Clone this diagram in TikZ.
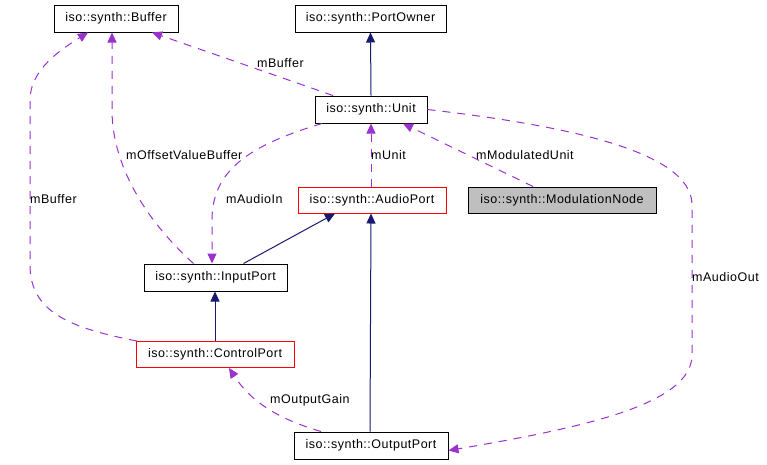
\documentclass[tikz,border=0pt]{standalone}
\usepackage{fontspec}
\setmainfont[LetterSpace=4]{Liberation Sans}
\usetikzlibrary{arrows.meta}
\definecolor{inhcol}{HTML}{191970}
\definecolor{usecol}{HTML}{9A32CD}
\definecolor{nodegray}{HTML}{BFBFBF}
\begin{document}
\begin{tikzpicture}[x=1pt,y=-1pt,
  font=\fontsize{12.5}{14}\selectfont,
  cls/.style={draw=black,line width=1pt,fill=white,inner sep=0pt,minimum height=27pt},
  redcls/.style={cls,draw=red},
  graycls/.style={cls,fill=nodegray},
  inh/.style={draw=inhcol,line width=1pt,-{Triangle[length=10pt,width=9pt]}},
  use/.style={draw=usecol,line width=1pt,dash pattern=on 8pt off 7pt,-{Triangle[length=10pt,width=9pt]}},
  lab/.style={inner sep=0pt,anchor=west}]
\useasboundingbox (0,0) rectangle (767,464);
\fill[white] (0,0) rectangle (767,464);
% nodes
\node[cls,minimum width=124pt] (buffer) at (116,18.5) {iso::synth::Buffer};
\node[cls,minimum width=151pt] (portowner) at (370.5,18.5) {iso::synth::PortOwner};
\node[cls,minimum width=112pt] (unit) at (371,109.5) {iso::synth::Unit};
\node[redcls,minimum width=148pt,minimum height=26pt] (audioport) at (372,200) {iso::synth::AudioPort};
\node[graycls,minimum width=188pt,minimum height=26pt] (modnode) at (562,200) {iso::synth::ModulationNode};
\node[cls,minimum width=143pt] (inputport) at (215.5,277.5) {iso::synth::InputPort};
\node[redcls,minimum width=158pt,minimum height=26pt] (controlport) at (215,354.5) {iso::synth::ControlPort};
\node[cls,minimum width=154pt] (outputport) at (371,445.5) {iso::synth::OutputPort};
% inheritance
\draw[inh] (unit.north) -- (portowner.south);
\draw[inh] ([xshift=28pt]inputport.north) -- ([xshift=-37pt]audioport.south);
\draw[inh] ([xshift=-1pt]outputport.north) -- ([xshift=-1pt]audioport.south);
\draw[inh] (controlport.north) -- ([xshift=-0.5pt]inputport.south);
% usage
\draw[use] ([xshift=-38pt]unit.north) -- ([xshift=36pt]buffer.south);
\node[lab] (lbuf1) at (257,63) {mBuffer};
\draw[use] ([xshift=-22pt]inputport.north) .. controls (140,215) and (112,160) .. (112,110) -- ([xshift=-4pt]buffer.south);
\node[lab] (loff) at (126,155) {mOffsetValueBuffer};
\draw[use] ([xshift=-78pt]controlport.north) .. controls (70,328) and (30,312) .. (30,265) -- (30,100) .. controls (30,70) and (60,50) .. ([xshift=-28pt]buffer.south);
\node[lab] (lbuf2) at (30,199) {mBuffer};
\draw[use] ([xshift=-49pt]unit.south) .. controls (250,145) and (212,170) .. (212,220) -- ([xshift=-3.5pt]inputport.north);
\node[lab] (lain) at (226,199) {mAudioIn};
\draw[use] ([xshift=-1pt]audioport.north) -- (unit.south);
\node[lab] (lunit) at (371,155) {mUnit};
\draw[use] ([xshift=-29pt]modnode.north) -- ([xshift=32pt]unit.south);
\node[lab] (lmod) at (476,155) {mModulatedUnit};
\draw[use] (unit.east) .. controls (560,125) and (692,150) .. (692,205) -- (692,355) .. controls (692,405) and (580,428) .. ([yshift=-5pt]outputport.east);
\node[lab] (laout) at (692,277) {mAudioOut};
\draw[use] ([xshift=-50pt]outputport.north) .. controls (275,418) and (250,400) .. ([xshift=14pt]controlport.south);
\node[lab] (lgain) at (270,400) {mOutputGain};
\end{tikzpicture}
\end{document}
